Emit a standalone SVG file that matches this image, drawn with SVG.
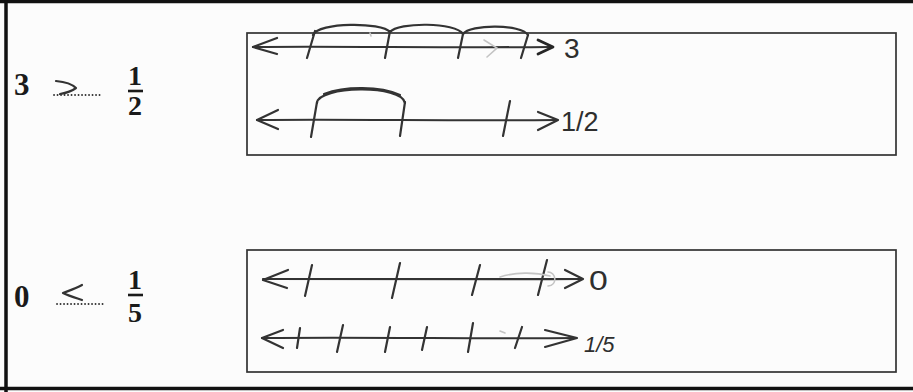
<svg xmlns="http://www.w3.org/2000/svg" width="913" height="392" viewBox="0 0 913 392">
  <style>
    .frame { fill: none; stroke: #111; }
    .box { fill: none; stroke: #333; stroke-width: 1.7; }
    .pen { fill: none; stroke: #333; stroke-width: 2.2; stroke-linecap: round; stroke-linejoin: round; }
    .pen-thick { fill: none; stroke: #262626; stroke-width: 2.8; stroke-linecap: round; stroke-linejoin: round; }
    .faint { fill: none; stroke: #c4c4c4; stroke-width: 1.6; stroke-linecap: round; }
    .dots { stroke: #333; stroke-width: 1.8; stroke-dasharray: 0.1 3.4; stroke-linecap: round; }
    .bar { stroke: #1a1a1a; stroke-width: 2.6; }
    .print { font-family: "Liberation Serif", "DejaVu Serif", serif; font-weight: bold; fill: #1a1a1a; }
    .hand { font-family: "Liberation Sans", "DejaVu Sans", sans-serif; fill: #2e2e2e; }
  </style>
  <rect x="0" y="0" width="913" height="392" fill="#fcfcfc"/>

  <!-- outer frame -->
  <g id="frame">
    <line class="frame" x1="0" y1="1.5" x2="913" y2="1.5" stroke-width="3.5"/>
    <line class="frame" x1="6" y1="0" x2="6" y2="392" stroke-width="3.5"/>
    <line class="frame" x1="0" y1="388.5" x2="913" y2="388.5" stroke-width="3.5"/>
  </g>

  <!-- row 1: 3 > 1/2 -->
  <g id="row1-expression">
    <text class="print" x="14" y="95" font-size="31">3</text>
    <line class="dots" x1="54" y1="95" x2="100" y2="95"/>
    <path class="pen" d="M56,81 C66,82 73,85 76,88 C72,91 66,93 60,94"/>
    <text class="print" x="135" y="85" font-size="28" text-anchor="middle">1</text>
    <line class="bar" x1="128" y1="91" x2="143" y2="91"/>
    <text class="print" x="135" y="115" font-size="28" text-anchor="middle">2</text>
  </g>

  <g id="row1-box">
    <rect class="box" x="247" y="33" width="649" height="122"/>
  </g>

  <g id="numberline-3">
    <path class="pen" d="M253,47 C330,46 450,48 550,47"/>
    <path class="pen" d="M277,38 L253,47 L277,54"/>
    <path class="pen" d="M315,31 L307,58 M390,31 L385,58 M463,34 L458,58 M528,35 L521,58"/>
    <path class="pen" d="M313,35 C318,22 382,22 390,32 M390,32 C398,22 456,22 463,34 M463,34 C470,24 521,24 528,35"/>
    <path class="faint" d="M370,33 L371,36 M484,40 L497,48 L487,57"/>
    <path class="pen-thick" d="M538,40 L553,47 L538,54"/>
    <text class="hand" x="564" y="58" font-size="28">3</text>
  </g>

  <g id="numberline-half">
    <path class="pen" d="M257,120 C350,119 450,121 557,120"/>
    <path class="pen" d="M278,110 L257,120 L278,129"/>
    <path class="pen" d="M317,102 L311,137 M405,102 L400,136 M510,101 L503,136"/>
    <path class="pen" d="M317,103 C318,86 402,84 405,103 M324,94 C345,86 380,86 400,95"/>
    <path class="pen" d="M538,112 L558,120 L538,130"/>
    <text class="hand" x="561" y="131" font-size="27">1/2</text>
  </g>

  <!-- row 2: 0 < 1/5 -->
  <g id="row2-expression">
    <text class="print" x="14" y="307" font-size="31">0</text>
    <line class="dots" x1="57" y1="304" x2="105" y2="304"/>
    <path class="pen" d="M82,285 C75,289 68,291 63,293 C69,296 76,298 82,300"/>
    <text class="print" x="135" y="289" font-size="28" text-anchor="middle">1</text>
    <line class="bar" x1="128" y1="295" x2="143" y2="295"/>
    <text class="print" x="135" y="322" font-size="28" text-anchor="middle">5</text>
  </g>

  <g id="row2-box">
    <rect class="box" x="247" y="250" width="649" height="122"/>
  </g>

  <g id="numberline-0">
    <path class="pen" d="M263,279 C380,278 480,280 582,279"/>
    <path class="pen" d="M288,270 L263,280 L287,288"/>
    <path class="pen" d="M312,265 L305,296 M400,263 L392,298 M480,265 L472,295 M547,260 L538,295"/>
    <path class="faint" d="M500,277 C515,272 535,272 550,276 M548,272 C556,272 558,285 548,286"/>
    <path class="pen" d="M565,270 L583,279 L565,288"/>
    <text class="hand" x="589" y="290" font-size="27" transform="translate(589 0) scale(1.25 1) translate(-589 0)">0</text>
  </g>

  <g id="numberline-fifth">
    <path class="pen" d="M262,338 C380,337 480,339 576,338"/>
    <path class="pen" d="M283,330 L262,338 L283,348"/>
    <path class="pen" d="M300,328 L297,348 M343,325 L337,352 M390,327 L385,352 M427,327 L422,350 M473,323 L468,352 M522,327 L515,348"/>
    <path class="faint" d="M500,331 L505,333"/>
    <path class="pen" d="M545,330 L577,338 L545,347"/>
    <text class="hand" x="584" y="352" font-size="22" font-style="italic">1/5</text>
  </g>
</svg>
